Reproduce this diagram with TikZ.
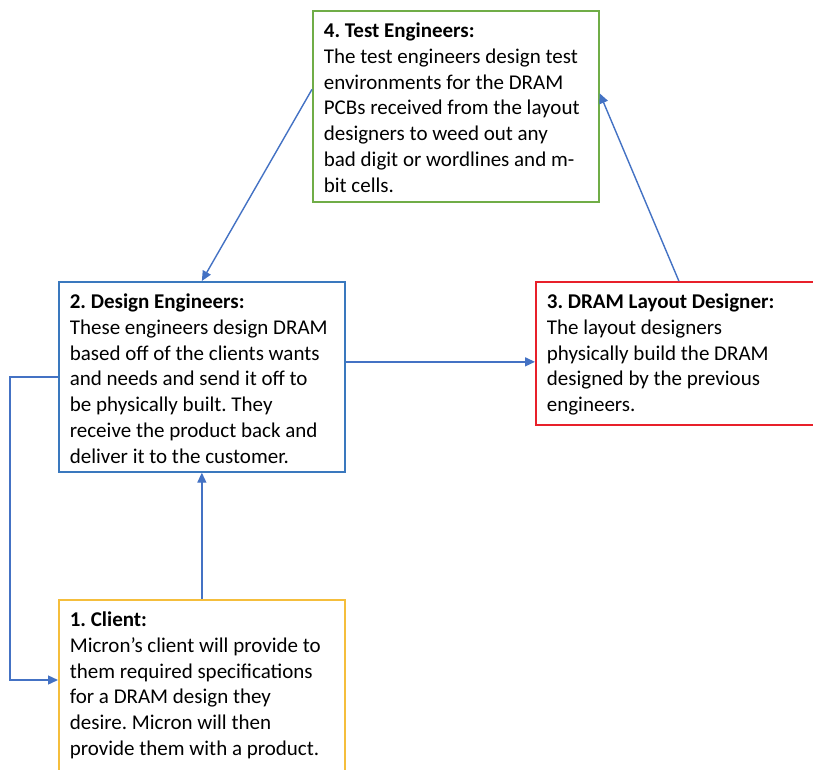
\documentclass[tikz,border=0pt]{standalone}
\usepackage{fontspec}
\setmainfont{Carlito}
\usetikzlibrary{arrows.meta,calc}
\frenchspacing

\definecolor{linkblue}{HTML}{4472C4}
\definecolor{designblue}{HTML}{3A78BE}
\definecolor{testgreen}{HTML}{70AD47}
\definecolor{layoutred}{HTML}{E8202A}
\definecolor{clientyellow}{HTML}{F5BE3C}

\tikzset{
  card/.style={draw, line width=1.7pt, anchor=north west, inner xsep=11pt, inner ysep=12pt,
    font=\fontsize{21pt}{25.8pt}\selectfont},
  link/.style={draw=linkblue, line width=1.4pt, -{Triangle[width=9pt,length=10pt]}}
}

\begin{document}
\begin{tikzpicture}[x=1pt, y=-1pt]
        \useasboundingbox (0,0) rectangle (813,770);
        \clip (0,0) rectangle (813,770);
        \fill[white] (0,0) rectangle (813,770);

        % Kaesten
        \node[card, draw=testgreen] (test) at (312,10) {\parbox[t][167pt][t]{264pt}{\raggedright
            \textbf{4. Test Engineers:}\\
            The test engineers design test\\
            environments for the DRAM\\
            PCBs received from the layout\\
            designers to weed out any\\
            bad digit or wordlines and m-\\
            bit cells.}};
        \node[card, draw=designblue] (design) at (58,281) {\parbox[t][166pt][t]{264pt}{\raggedright
            \textbf{2. Design Engineers:}\\
            These engineers design DRAM\\
            based off of the clients wants\\
            and needs and send it off to\\
            be physically built. They\\
            receive the product back and\\
            deliver it to the customer.}};
        \node[card, draw=layoutred] (layout) at (535,281) {\parbox[t][119pt][t]{264pt}{\raggedright
            \textbf{3. DRAM Layout Designer:}\\
            The layout designers\\
            physically build the DRAM\\
            designed by the previous\\
            engineers.}};
        \node[card, draw=clientyellow] (client) at (58,599) {\parbox[t][180pt][t]{264pt}{\raggedright
            \textbf{1. Client:}\\
            Micron’s client will provide to\\
            them required specifications\\
            for a DRAM design they\\
            desire. Micron will then\\
            provide them with a product.}};

        % Pfeile
        \draw[link] ([yshift=17pt]test.west) -- (design.north);
        \draw[link] ([yshift=15pt]design.east) -- ([yshift=15pt]design.east -| layout.west);
        \draw[link] (layout.north) -- ([yshift=13pt]test.east);
        \draw[link] (client.north) -- (design.south);

        % Rueckweg zum Kunden
        \draw[link] (design.west) -- ++(-48,0) |- ([yshift=-81pt]client.north west);
    \end{tikzpicture}
\end{document}
